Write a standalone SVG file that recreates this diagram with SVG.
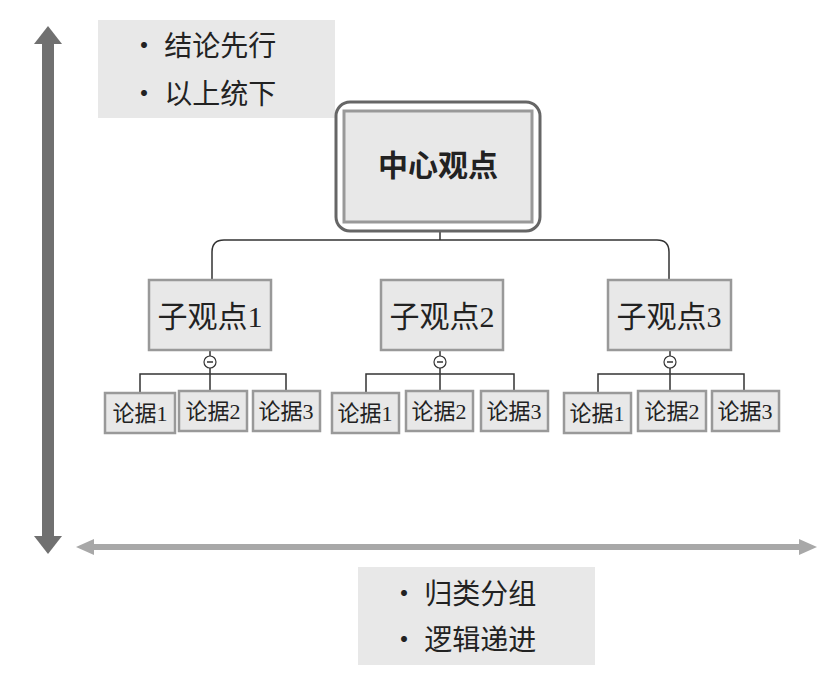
<svg xmlns="http://www.w3.org/2000/svg" width="833" height="693" viewBox="0 0 833 693">
<style>
.t{font-family:"Liberation Serif","Noto Sans CJK SC",serif;fill:#222;text-anchor:middle}
.s{font-family:"Noto Sans CJK SC",sans-serif;fill:#222}
.sub{fill:#e8e8e8;stroke:#999;stroke-width:2.5}
.leaf{fill:#e8e8e8;stroke:#999;stroke-width:2.5}
.ln{fill:none;stroke:#333;stroke-width:1.5}
</style>
<rect width="833" height="693" fill="#fff"/>
<g id="axes">
<line x1="48" y1="42" x2="48" y2="538" stroke="#707070" stroke-width="12"/>
<polygon points="48,26 62,44 34,44" fill="#707070"/>
<polygon points="48,554 62,536 34,536" fill="#707070"/>
<line x1="90" y1="547" x2="803" y2="547" stroke="#a8a8a8" stroke-width="6"/>
<polygon points="76,547 94,539 94,555" fill="#a8a8a8"/>
<polygon points="817,547 799,539 799,555" fill="#a8a8a8"/>
</g>
<g id="note-top">
<rect x="98" y="20" width="237" height="98" fill="#e8e8e8"/>
<text class="s" x="130" y="56" font-size="28">· 结论先行</text>
<text class="s" x="130" y="104" font-size="28">· 以上统下</text>
</g>
<g id="note-bottom">
<rect x="358" y="567" width="237" height="98" fill="#e8e8e8"/>
<text class="s" x="390" y="604" font-size="28">· 归类分组</text>
<text class="s" x="390" y="650" font-size="28">· 逻辑递进</text>
</g>
<g id="connectors">
<path class="ln" d="M440,231 V240 M212,280 V252 Q212,240 224,240 H657 Q669,240 669,252 V280"/>
<path class="ln" d="M210,350 V356 M210,368 V392 M140,392 V374 H286 V392"/>
<path class="ln" d="M440,350 V356 M440,368 V392 M366,392 V374 H514 V392"/>
<path class="ln" d="M670,350 V356 M670,368 V392 M598,392 V374 H744 V392"/>
<g fill="#fff" stroke="#333" stroke-width="1.2">
<circle cx="210" cy="362" r="6"/><circle cx="440" cy="362" r="6"/><circle cx="670" cy="362" r="6"/>
</g>
<g stroke="#333" stroke-width="1.5">
<line x1="207" y1="362" x2="213" y2="362"/><line x1="437" y1="362" x2="443" y2="362"/><line x1="667" y1="362" x2="673" y2="362"/>
</g>
</g>
<g id="center">
<rect x="336" y="102" width="204" height="129" rx="14" fill="#fff" stroke="#666" stroke-width="3"/>
<rect x="344" y="111" width="188" height="111" fill="#e8e8e8" stroke="#999" stroke-width="3"/>
<text class="s" x="438" y="176" font-size="30" font-weight="bold" text-anchor="middle">中心观点</text>
</g>
<g id="sub1"><rect class="sub" x="149" y="280" width="122" height="70"/><text class="t" x="210" y="327" font-size="30">子观点1</text></g>
<g id="sub2"><rect class="sub" x="381" y="280" width="122" height="70"/><text class="t" x="442" y="327" font-size="30">子观点2</text></g>
<g id="sub3"><rect class="sub" x="608" y="280" width="123" height="70"/><text class="t" x="669" y="327" font-size="30">子观点3</text></g>
<g id="leaves">
<g id="l11"><rect class="leaf" x="105" y="393" width="70" height="40"/><text class="t" x="140" y="421" font-size="22">论据1</text></g>
<g id="l12"><rect class="leaf" x="179" y="391" width="68" height="40"/><text class="t" x="213" y="419" font-size="22">论据2</text></g>
<g id="l13"><rect class="leaf" x="253" y="391" width="67" height="40"/><text class="t" x="286" y="419" font-size="22">论据3</text></g>
<g id="l21"><rect class="leaf" x="332" y="393" width="67" height="40"/><text class="t" x="365" y="421" font-size="22">论据1</text></g>
<g id="l22"><rect class="leaf" x="406" y="391" width="67" height="40"/><text class="t" x="439" y="419" font-size="22">论据2</text></g>
<g id="l23"><rect class="leaf" x="481" y="391" width="67" height="40"/><text class="t" x="514" y="419" font-size="22">论据3</text></g>
<g id="l31"><rect class="leaf" x="564" y="393" width="67" height="40"/><text class="t" x="597" y="421" font-size="22">论据1</text></g>
<g id="l32"><rect class="leaf" x="638" y="391" width="68" height="40"/><text class="t" x="672" y="419" font-size="22">论据2</text></g>
<g id="l33"><rect class="leaf" x="712" y="391" width="67" height="40"/><text class="t" x="745" y="419" font-size="22">论据3</text></g>
</g>
</svg>
